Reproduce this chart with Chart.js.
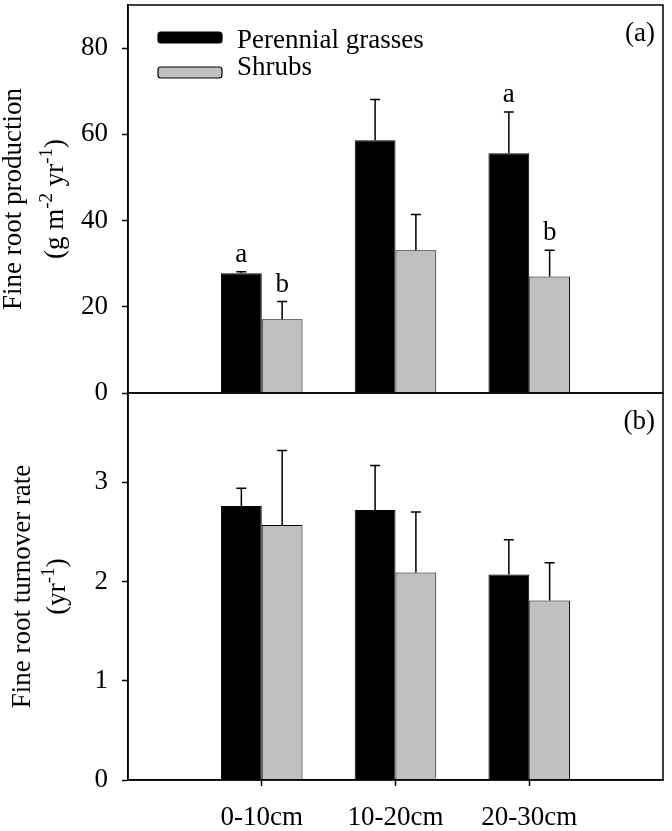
<!DOCTYPE html>
<html>
<head>
<meta charset="utf-8">
<script src="https://cdn.jsdelivr.net/npm/chart.js@4.4.1/dist/chart.umd.min.js"></script>
<style>
  html, body { margin: 0; padding: 0; background: #fff; }
  #wrap { position: relative; width: 672px; height: 831px; }
  #prodChart { position: absolute; left: 0; top: 0; width: 672px; height: 400px; }
  #turnChart { position: absolute; left: 0; top: 390px; width: 672px; height: 441px; }
</style>
</head>
<body>
<div id="wrap">
  <canvas id="prodChart" width="672" height="400"></canvas>
  <canvas id="turnChart" width="672" height="441"></canvas>
</div>
<script>
// depth classes
var depths = ['0-10cm', '10-20cm', '20-30cm'];
var seriesNames = ['Perennial grasses', 'Shrubs'];

// (a) fine root production, g m-2 yr-1
var prodGrass = [27.8, 58.6, 55.6];
var prodGrassErr = [0.3, 9.5, 9.6];
var prodShrub = [17.1, 33.1, 27.0];
var prodShrubErr = [4.1, 8.3, 6.1];
var prodGrassLetters = ['a', '', 'a'];
var prodShrubLetters = ['b', '', 'b'];
var prodTicks = [0, 20, 40, 60, 80];

// (b) fine root turnover rate, yr-1
var turnGrass = [2.76, 2.72, 2.07];
var turnGrassErr = [0.18, 0.45, 0.35];
var turnShrub = [2.57, 2.09, 1.81];
var turnShrubErr = [0.75, 0.61, 0.38];
var turnTicks = [0, 1, 2, 3];

var FONT = '"Liberation Serif", "Times New Roman", serif';
var GREY = '#c0c0c0';

function points(values) {
    return values.map(function (v, i) { return {x: i + 1, y: v}; });
}

// error bars (upper only) + significance letters
var errorBars = {
    id: 'errorBars',
    afterDatasetsDraw: function (chart) {
        var ctx = chart.ctx;
        var yScale = chart.scales.y;
        ctx.save();
        ctx.strokeStyle = '#000';
        ctx.fillStyle = '#000';
        ctx.lineWidth = 1.5;
        ctx.font = '27px ' + FONT;
        ctx.textAlign = 'center';
        ctx.textBaseline = 'alphabetic';
        chart.data.datasets.forEach(function (ds, i) {
            chart.getDatasetMeta(i).data.forEach(function (bar, j) {
                var top = yScale.getPixelForValue(ds.data[j].y + ds.errors[j]);
                ctx.beginPath();
                ctx.moveTo(bar.x, bar.y);
                ctx.lineTo(bar.x, top);
                ctx.moveTo(bar.x - 5, top);
                ctx.lineTo(bar.x + 5, top);
                ctx.stroke();
                if (ds.letters && ds.letters[j]) {
                    ctx.fillText(ds.letters[j], bar.x, top - 10);
                }
            });
        });
        ctx.restore();
    }
};

// box frame, panel tag and the two-line y title with superscripts
var panelDecor = {
    id: 'panelDecor',
    afterDraw: function (chart, args, opts) {
        var ctx = chart.ctx;
        var area = chart.chartArea;
        ctx.save();
        ctx.strokeStyle = '#000';
        ctx.lineWidth = 1.5;
        ctx.strokeRect(area.left, area.top, area.right - area.left, area.bottom - area.top);

        ctx.fillStyle = '#000';
        ctx.font = '27px ' + FONT;
        ctx.textAlign = 'right';
        ctx.textBaseline = 'alphabetic';
        ctx.fillText(opts.tag, area.right - 8, area.top + 36);

        var midY = (area.top + area.bottom) / 2;
        opts.title.forEach(function (line, k) {
            var parts = line.map(function (p) {
                var f = (p.sup ? '19px ' : '27px ') + FONT;
                ctx.font = f;
                return {text: p.text, sup: p.sup, font: f, w: ctx.measureText(p.text).width};
            });
            var total = parts.reduce(function (s, p) { return s + p.w; }, 0);
            ctx.save();
            ctx.translate(opts.baselines[k], midY);
            ctx.rotate(-Math.PI / 2);
            ctx.textAlign = 'left';
            var x = -total / 2;
            parts.forEach(function (p) {
                ctx.font = p.font;
                ctx.fillText(p.text, x, p.sup ? -11 : 0);
                x += p.w;
            });
            ctx.restore();
        });
        ctx.restore();
    }
};

// legend inside panel (a)
var boxLegend = {
    id: 'boxLegend',
    afterDraw: function (chart, args, opts) {
        if (!opts.show) return;
        var ctx = chart.ctx;
        var area = chart.chartArea;
        var swatchTop = [27, 62];
        var textBase = [43, 70];
        ctx.save();
        ctx.font = '27px ' + FONT;
        ctx.textAlign = 'left';
        ctx.textBaseline = 'alphabetic';
        chart.data.datasets.forEach(function (ds, i) {
            var x = area.left + 30;
            var y = area.top + swatchTop[i];
            ctx.beginPath();
            ctx.roundRect(x, y, 64, 11, 3);
            ctx.fillStyle = ds.backgroundColor;
            ctx.fill();
            ctx.lineWidth = 1.2;
            ctx.strokeStyle = '#000';
            ctx.stroke();
            ctx.fillStyle = '#000';
            ctx.fillText(ds.label, x + 79, area.top + textBase[i]);
        });
        ctx.restore();
    }
};

function panelOptions(yMax, yTicks, showX, padding, decor, legendOn) {
    return {
        responsive: false,
        maintainAspectRatio: false,
        animation: false,
        layout: {padding: padding},
        datasets: {bar: {categoryPercentage: 0.61, barPercentage: 1}},
        plugins: {
            legend: {display: false},
            tooltip: {enabled: false},
            panelDecor: decor,
            boxLegend: {show: legendOn}
        },
        scales: {
            x: {
                type: 'linear',
                min: 0,
                max: 4,
                offset: false,
                display: showX,
                afterBuildTicks: function (scale) {
                    scale.ticks = depths.map(function (d, i) { return {value: i + 1}; });
                },
                afterFit: function (scale) {
                    scale.height = showX ? 51 : 0;
                    scale.paddingLeft = 0;
                    scale.paddingRight = 0;
                },
                ticks: {
                    callback: function (v) { return depths[v - 1]; },
                    color: '#000',
                    font: {family: FONT, size: 27},
                    padding: 16,
                    maxRotation: 0,
                    autoSkip: false
                },
                grid: {offset: false, drawOnChartArea: false, drawTicks: true, tickLength: 6, tickColor: '#000', tickWidth: 1.5},
                border: {display: true, color: '#000', width: 1.5}
            },
            y: {
                min: 0,
                max: yMax,
                afterBuildTicks: function (scale) {
                    scale.ticks = yTicks.map(function (v) { return {value: v}; });
                },
                afterFit: function (scale) {
                    scale.width = 128;
                    scale.paddingTop = 0;
                    scale.paddingBottom = 0;
                },
                ticks: {
                    color: '#000',
                    font: {family: FONT, size: 27},
                    padding: 14
                },
                grid: {drawOnChartArea: false, drawTicks: true, tickLength: 6, tickColor: '#000', tickWidth: 1.5},
                border: {display: true, color: '#000', width: 1.5}
            }
        }
    };
}

new Chart(document.getElementById('prodChart'), {
    type: 'bar',
    data: {
        datasets: [{
            label: seriesNames[0],
            data: points(prodGrass),
            errors: prodGrassErr,
            letters: prodGrassLetters,
            backgroundColor: '#000',
            borderColor: '#000',
            borderWidth: 1
        }, {
            label: seriesNames[1],
            data: points(prodShrub),
            errors: prodShrubErr,
            letters: prodShrubLetters,
            backgroundColor: GREY,
            borderColor: '#000',
            borderWidth: 1
        }]
    },
    options: panelOptions(90, prodTicks, false, {top: 5, right: 9, bottom: 7, left: 0}, {
        tag: '(a)',
        baselines: [21, 63],
        title: [
            [{text: 'Fine root production'}],
            [{text: '(g m'}, {text: '-2', sup: true}, {text: ' yr'}, {text: '-1', sup: true}, {text: ')'}]
        ]
    }, true),
    plugins: [errorBars, panelDecor, boxLegend]
});

new Chart(document.getElementById('turnChart'), {
    type: 'bar',
    data: {
        datasets: [{
            label: seriesNames[0],
            data: points(turnGrass),
            errors: turnGrassErr,
            backgroundColor: '#000',
            borderColor: '#000',
            borderWidth: 1
        }, {
            label: seriesNames[1],
            data: points(turnShrub),
            errors: turnShrubErr,
            backgroundColor: GREY,
            borderColor: '#000',
            borderWidth: 1
        }]
    },
    options: panelOptions(3.9, turnTicks, true, {top: 3, right: 9, bottom: 0, left: 0}, {
        tag: '(b)',
        baselines: [30, 65],
        title: [
            [{text: 'Fine root turnover rate'}],
            [{text: '(yr'}, {text: '-1', sup: true}, {text: ')'}]
        ]
    }, false),
    plugins: [errorBars, panelDecor, boxLegend]
});
</script>
</body>
</html>
